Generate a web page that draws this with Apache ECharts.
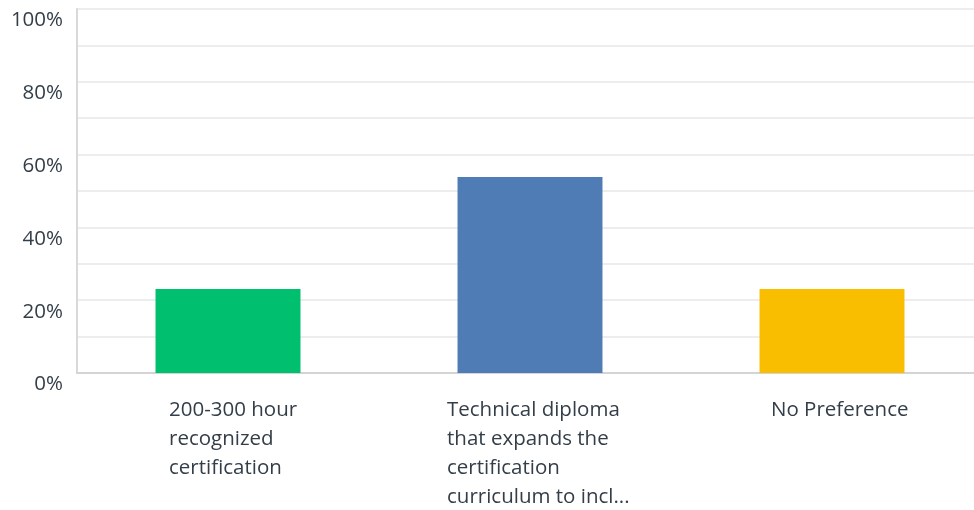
<!DOCTYPE html>
<html>
<head>
<meta charset="utf-8">
<script src="https://cdn.jsdelivr.net/npm/echarts@6/dist/echarts.min.js"></script>
<style>
  html, body { margin: 0; padding: 0; background: #fff; }
  #chart { width: 974px; height: 510px; }
</style>
</head>
<body>
<div id="chart"></div>
<script>
var categories = [
  ['200-300 hour', 'recognized', 'certification'],
  ['Technical diploma', 'that expands the', 'certification', 'curriculum to incl...'],
  ['No Preference']
];
var values = [23.08, 53.85, 23.08];
var barColors = ['#00bf6f', '#507cb6', '#f9be00'];
var yTicks = [0, 20, 40, 60, 80, 100];

// label block widths so the lines start where the reference puts them
var labelWidths = [118, 166, 122];

var chart = echarts.init(document.getElementById('chart'));

var rich = {};
labelWidths.forEach(function (w, i) {
  rich['c' + i] = {
    width: w,
    align: 'left',
    fontSize: 20.5,
    lineHeight: 29,
    color: '#333e48',
    fontFamily: 'Open Sans'
  };
});

var option = {
  animation: false,
  grid: {
    left: 77,
    top: 9,
    bottom: 137,
    right: -9,
    outerBoundsMode: 'none',
    containLabel: false
  },
  xAxis: {
    type: 'category',
    data: categories.map(function (c, i) { return String(i); }),
    axisTick: { show: false },
    axisLine: { lineStyle: { color: '#d4d4d4', width: 2 } },
    axisLabel: {
      margin: 23,
      interval: 0,
      verticalAlign: 'top',
      formatter: function (v) {
        var i = Number(v);
        return categories[i].map(function (line) {
          return '{c' + i + '|' + line + '}';
        }).join('\n');
      },
      rich: rich
    }
  },
  yAxis: {
    type: 'value',
    min: 0,
    max: 100,
    interval: 10,
    axisTick: { show: false },
    axisLine: { show: true, lineStyle: { color: '#d9d9d9', width: 2 } },
    splitLine: { lineStyle: { color: '#ededed', width: 2 } },
    axisLabel: {
      margin: 14,
      verticalAlign: 'top',
      padding: [1, 0, 0, 0],
      color: '#333e48',
      fontSize: 20.5,
      fontFamily: 'Open Sans',
      formatter: function (v) {
        return yTicks.indexOf(v) >= 0 ? v + '%' : '';
      }
    }
  },
  series: [{
    type: 'bar',
    barWidth: '48%',
    data: values.map(function (v, i) {
      return { value: v, itemStyle: { color: barColors[i] } };
    })
  }]
};

chart.setOption(option);
</script>
</body>
</html>
